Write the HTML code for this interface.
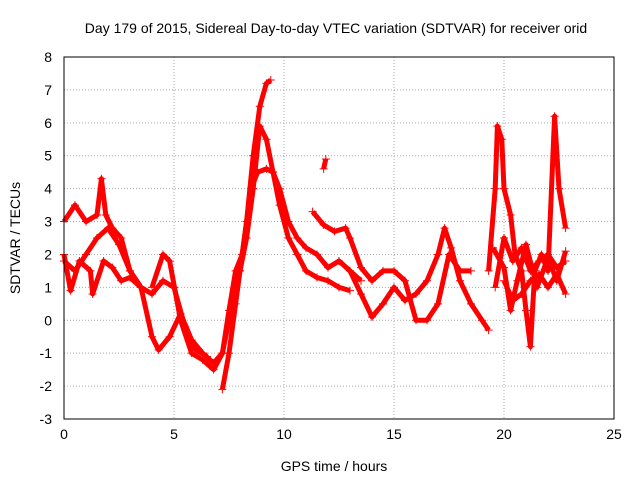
<!DOCTYPE html>
<html><head><meta charset="utf-8">
<style>
body{margin:0;background:#fff;}
svg{display:block;font-family:"Liberation Sans",sans-serif;}
</style></head>
<body>
<svg id="chart" width="640" height="480">
<rect width="640" height="480" fill="#fff"/>
<text x="336" y="33" font-size="14" text-anchor="middle">Day 179 of 2015, Sidereal Day-to-day VTEC variation (SDTVAR) for receiver orid</text>
<text x="334" y="471" font-size="14" text-anchor="middle">GPS time / hours</text>
<text transform="translate(20,238) rotate(-90)" font-size="14" text-anchor="middle">SDTVAR / TECUs</text>
<g id="grid"></g>
<g id="series"></g>
<rect x="64" y="57" width="550" height="362" fill="none" stroke="#000" stroke-width="1"/>
</svg>
<script>
const xTicks=[0,5,10,15,20,25];
const yTicks=[-3,-2,-1,0,1,2,3,4,5,6,7,8];
const seriesA=[[0,1.8],[0.5,1.5],[1,2.0],[1.5,2.5],[2,2.8],[2.5,2.3],[3,1.5],[3.5,1.0],[4,-0.5],[4.3,-0.9],[4.8,-0.5],[5.3,0.2],[5.8,-0.6],[6.3,-1.0],[6.8,-1.3],[7.2,-1.0],[7.5,0],[8,1.5],[8.3,2.5],[8.6,4],[8.9,5.9],[9.2,5.5],[9.5,4.5],[9.8,3.5],[10.2,2.5],[10.6,2.0],[11,1.5],[11.5,1.3],[12,1.2],[12.5,1.0],[13,0.9]];
const seriesB=[[4,1.0],[4.5,2.0],[4.8,1.8],[5.3,0],[5.8,-1.0],[6.3,-1.2],[6.8,-1.5],[7.2,-1.0],[7.5,0.3],[7.8,1.5],[8.1,2.0],[8.5,4.0],[8.8,4.5],[9.2,4.6],[9.5,4.5],[9.8,4.0],[10.2,3.0],[10.6,2.5],[11,2.2],[11.5,2.0],[12,1.6],[12.5,1.8],[13,1.5],[13.5,1.2]];
const seriesC=[[7.2,-2.1],[7.5,-1],[7.8,0.5],[8,1.5],[8.3,3],[8.6,5],[8.9,6.5],[9.2,7.2],[9.4,7.3]];
const seriesD=[[0,3.0],[0.5,3.5],[1,3.0],[1.5,3.2],[1.7,4.3],[1.9,3.2],[2.2,2.8],[2.6,2.5],[3,1.5],[3.5,1.0],[4,0.8],[4.5,1.2],[5,1.0],[5.5,-0.2],[6,-0.9],[6.5,-1.1]];
const seriesE=[[0,2.0],[0.3,0.9],[0.7,1.8],[1.2,1.5],[1.3,0.8],[1.8,1.8],[2.2,1.6],[2.6,1.2],[3,1.3],[3.5,1.0]];
const seriesF=[[11.3,3.3],[11.8,2.9],[12.3,2.7],[12.8,2.8],[13,2.5],[13.5,1.6],[14,1.2],[14.5,1.5],[15,1.5],[15.5,1.2],[16,0],[16.5,0],[17,0.5],[17.5,2.0],[18,1.5],[18.5,1.5]];
const seriesG=[[13,1.5],[13.5,0.8],[14,0.1],[14.5,0.5],[15,1.0],[15.5,0.6],[16,0.8],[16.5,1.2],[17,2.0],[17.3,2.8],[17.6,2.2],[18,1.2],[18.5,0.5],[19,0],[19.3,-0.3]];
const seriesH=[[19.3,1.5],[19.6,4.0],[19.7,5.9],[19.9,5.5],[20,4.0],[20.3,3.2],[20.5,2.0],[20.8,1.5],[21,0.3],[21.2,-0.8],[21.4,1.5],[21.7,2.0],[22,1.5],[22.3,6.2],[22.5,4.0],[22.8,2.8]];
const seriesI=[[19.5,2.2],[20,1.6],[20.3,0.3],[20.6,1.2],[21,2.3],[21.5,1.0],[22,1.9],[22.4,1.2],[22.8,2.1]];
const seriesJ=[[11.8,4.6],[11.9,4.9]];
const seriesK=[[19.6,1.0],[20,2.5],[20.4,1.8],[20.8,2.2],[21.2,1.5],[21.6,1.8],[22,2.0],[22.4,1.6],[22.8,1.8]];
const seriesL=[[20,1.2],[20.4,0.6],[20.8,0.8],[21.2,1.2],[21.6,1.4],[22,1.0],[22.4,1.4],[22.8,0.8]];
const allSeries=[seriesA,seriesB,seriesC,seriesD,seriesE,seriesF,seriesG,seriesH,seriesI,seriesJ,seriesK,seriesL];
const X0=64,X1=614,Y0=419,Y1=57;
const xs=v=>X0+(v-0)/(25-0)*(X1-X0);
const ys=v=>Y0-(v+3)/11*(Y0-Y1);
const NS='http://www.w3.org/2000/svg';
const grid=document.getElementById('grid');
xTicks.forEach(t=>{
  const x=xs(t);
  if(t>0&&t<25){const l=document.createElementNS(NS,'line');
  l.setAttribute('x1',x);l.setAttribute('x2',x);l.setAttribute('y1',Y1);l.setAttribute('y2',Y0);
  l.setAttribute('stroke','#aaa');l.setAttribute('stroke-dasharray','1,2');
  
  
  grid.appendChild(l);}
  const tx=document.createElementNS(NS,'text');
  tx.setAttribute('x',x);tx.setAttribute('y',Y0+20);tx.setAttribute('font-size','14');tx.setAttribute('text-anchor','middle');
  tx.textContent=t;
  
  
  grid.appendChild(tx);
});
yTicks.forEach(t=>{
  const y=ys(t);
  if(t>-3&&t<8){const l=document.createElementNS(NS,'line');
  l.setAttribute('x1',X0);l.setAttribute('x2',X1);l.setAttribute('y1',y);l.setAttribute('y2',y);
  l.setAttribute('stroke','#aaa');l.setAttribute('stroke-dasharray','1,2');
  
  
  grid.appendChild(l);}
  const tx=document.createElementNS(NS,'text');
  tx.setAttribute('x',X0-12);tx.setAttribute('y',y+5);tx.setAttribute('font-size','14');tx.setAttribute('text-anchor','end');
  tx.textContent=t;
  
  
  grid.appendChild(tx);
});
const sg=document.getElementById('series');
allSeries.forEach((s,i)=>{
  const p=document.createElementNS(NS,'polyline');
  p.setAttribute('points',s.map(d=>xs(d[0])+','+ys(d[1])).join(' '));
  p.setAttribute('fill','none');p.setAttribute('stroke','#f00');p.setAttribute('stroke-width','5');p.setAttribute('stroke-linejoin','round');
  
  
  sg.appendChild(p);
  s.forEach(d=>{
    const m=document.createElementNS(NS,'path');
    const x=xs(d[0]),y=ys(d[1]);
    m.setAttribute('d',`M${x-4},${y}H${x+4}M${x},${y-4}V${y+4}`);
    m.setAttribute('stroke','#f00');m.setAttribute('stroke-width','1');
    
    
    sg.appendChild(m);
  });
});
</script>
</body></html>
